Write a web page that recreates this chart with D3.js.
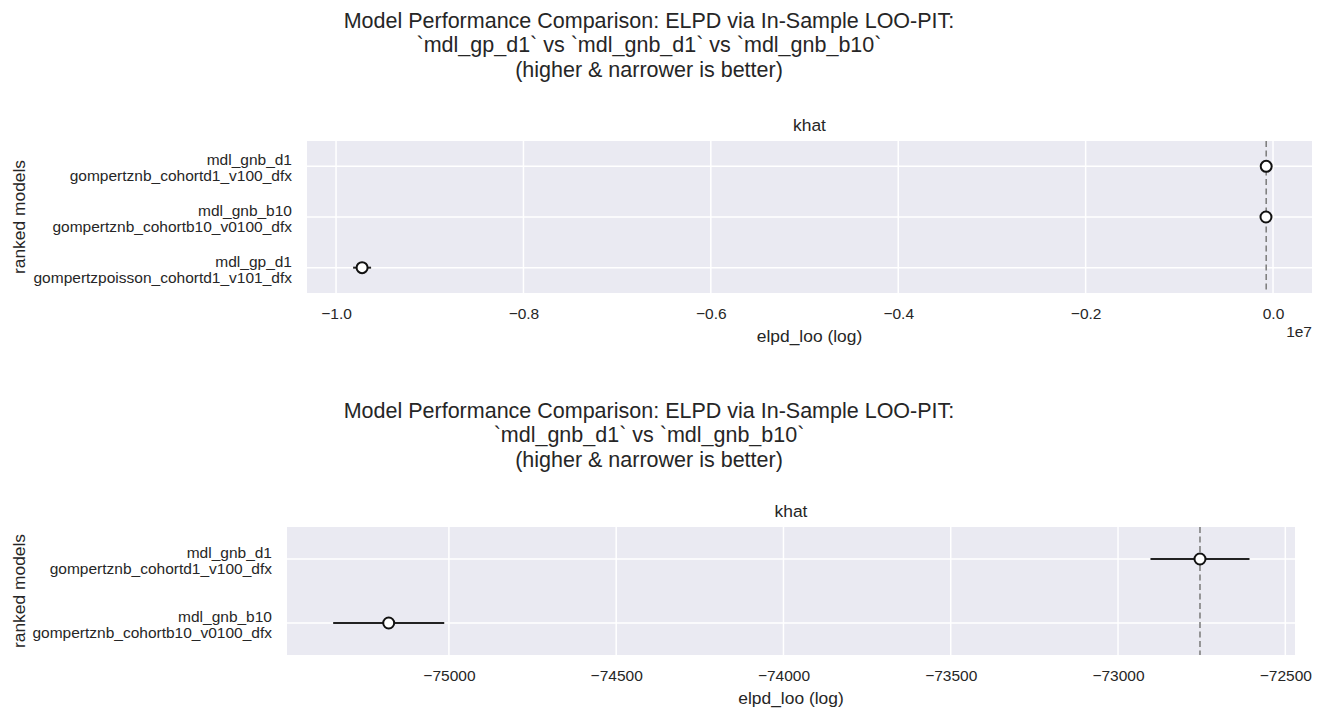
<!DOCTYPE html>
<html>
<head>
<meta charset="utf-8">
<script src="https://cdn.jsdelivr.net/npm/d3@7"></script>
<style>
  body { margin: 0; background: #fff; }
  svg text { font-family: "Liberation Sans", Arial, sans-serif; fill: #262626; }
</style>
</head>
<body>
<div id="chart"></div>
<script>
// --- data ---
var topNames    = ["mdl_gnb_d1", "mdl_gnb_b10", "mdl_gp_d1"];
var topVariants = ["gompertznb_cohortd1_v100_dfx", "gompertznb_cohortb10_v0100_dfx", "gompertzpoisson_cohortd1_v101_dfx"];
var topElpd     = [-72755, -75180, -9722000];
var topSe       = [148, 166, 96000];
var topTitle    = ["Model Performance Comparison: ELPD via In-Sample LOO-PIT:",
                   "`mdl_gp_d1` vs `mdl_gnb_d1` vs `mdl_gnb_b10`",
                   "(higher & narrower is better)"];

var botNames    = ["mdl_gnb_d1", "mdl_gnb_b10"];
var botVariants = ["gompertznb_cohortd1_v100_dfx", "gompertznb_cohortb10_v0100_dfx"];
var botElpd     = [-72755, -75180];
var botSe       = [148, 166];
var botTitle    = ["Model Performance Comparison: ELPD via In-Sample LOO-PIT:",
                   "`mdl_gnb_d1` vs `mdl_gnb_b10`",
                   "(higher & narrower is better)"];

var width = 1324, height = 708;
var svg = d3.select("div#chart").append("svg")
  .attr("width", width).attr("height", height);

function drawPanel(o) {
  var rows = o.names.map(function(n, i){
    return {name: n, variant: o.variants[i], elpd: o.elpd[i], se: o.se[i]};
  });

  var x = d3.scaleLinear().domain(o.domain).range([o.left, o.right]);
  var y = d3.scalePoint().domain(o.names).range([o.top, o.bottom]).padding(0.5);

  var g = svg.append("g");

  // suptitle
  g.append("text")
    .attr("text-anchor", "middle")
    .attr("font-size", "21.5px")
    .selectAll("tspan")
    .data(o.title).enter().append("tspan")
    .attr("x", 649)
    .attr("y", function(d, i){ return o.titleY + i * 24.3; })
    .text(function(d){ return d; });

  g.append("rect")
    .attr("x", o.left).attr("y", o.top)
    .attr("width", o.right - o.left).attr("height", o.bottom - o.top)
    .attr("fill", "#eaeaf2");

  var ticks = x.ticks(6);
  g.selectAll(".vgrid").data(ticks).enter().append("line")
    .attr("x1", function(d){ return x(d); }).attr("x2", function(d){ return x(d); })
    .attr("y1", o.top).attr("y2", o.bottom)
    .attr("stroke", "#fff").attr("stroke-width", 1.5);

  g.selectAll(".hgrid").data(o.names).enter().append("line")
    .attr("x1", o.left).attr("x2", o.right)
    .attr("y1", function(d){ return y(d); }).attr("y2", function(d){ return y(d); })
    .attr("stroke", "#fff").attr("stroke-width", 1.5);

  // x axis
  var ax = g.append("g")
    .attr("transform", "translate(0," + o.bottom + ")")
    .call(d3.axisBottom(x).tickValues(ticks).tickSize(0).tickPadding(15).tickFormat(o.fmt));
  ax.select(".domain").remove();
  ax.selectAll("text").attr("font-size", "15.5px").attr("fill", "#262626")
    .style("font-family", "'Liberation Sans', Arial, sans-serif");

  if (o.offset) {
    g.append("text").attr("x", o.right).attr("y", o.bottom + 44)
      .attr("text-anchor", "end").attr("font-size", "15.5px").text(o.offset);
  }

  g.append("text")
    .attr("x", (o.left + o.right) / 2).attr("y", o.bottom + 49)
    .attr("text-anchor", "middle").attr("font-size", "17.4px")
    .text("elpd_loo (log)");

  g.append("text")
    .attr("x", (o.left + o.right) / 2).attr("y", o.top - 10)
    .attr("text-anchor", "middle").attr("font-size", "17.4px")
    .text("khat");

  g.append("text")
    .attr("transform", "translate(25," + ((o.top + o.bottom) / 2) + ") rotate(-90)")
    .attr("text-anchor", "middle").attr("font-size", "17.4px")
    .text("ranked models");

  // y tick labels (two lines)
  var lab = g.selectAll(".ylab").data(rows).enter().append("text")
    .attr("text-anchor", "end").attr("font-size", "15.5px");
  lab.append("tspan").attr("x", o.left - 15)
    .attr("y", function(d){ return y(d.name) - 1; })
    .text(function(d){ return d.name; });
  lab.append("tspan").attr("x", o.left - 15)
    .attr("y", function(d){ return y(d.name) + 15; })
    .text(function(d){ return d.variant; });

  // reference line at the best model
  g.append("line")
    .attr("x1", x(rows[0].elpd)).attr("x2", x(rows[0].elpd))
    .attr("y1", o.top).attr("y2", o.bottom)
    .attr("stroke", "#808080").attr("stroke-width", 1.6)
    .attr("stroke-dasharray", "6,3.5");

  g.selectAll(".err").data(rows).enter().append("line")
    .attr("x1", function(d){ return x(d.elpd - d.se); })
    .attr("x2", function(d){ return x(d.elpd + d.se); })
    .attr("y1", function(d){ return y(d.name); })
    .attr("y2", function(d){ return y(d.name); })
    .attr("stroke", "#222").attr("stroke-width", 2);

  g.selectAll(".pt").data(rows).enter().append("circle")
    .attr("cx", function(d){ return x(d.elpd); })
    .attr("cy", function(d){ return y(d.name); })
    .attr("r", 5.5)
    .attr("fill", "#fff").attr("stroke", "#111").attr("stroke-width", 2);
}

drawPanel({
  names: topNames, variants: topVariants, elpd: topElpd, se: topSe, title: topTitle,
  titleY: 28, left: 307, right: 1312, top: 141, bottom: 293,
  domain: [-10310000, 416000],
  fmt: function(d){ return d3.format(".1f")(d / 1e7); },
  offset: "1e7"
});

drawPanel({
  names: botNames, variants: botVariants, elpd: botElpd, se: botSe, title: botTitle,
  titleY: 418, left: 287, right: 1295, top: 527, bottom: 655,
  domain: [-75484, -72471],
  fmt: d3.format("d")
});
</script>
</body>
</html>
